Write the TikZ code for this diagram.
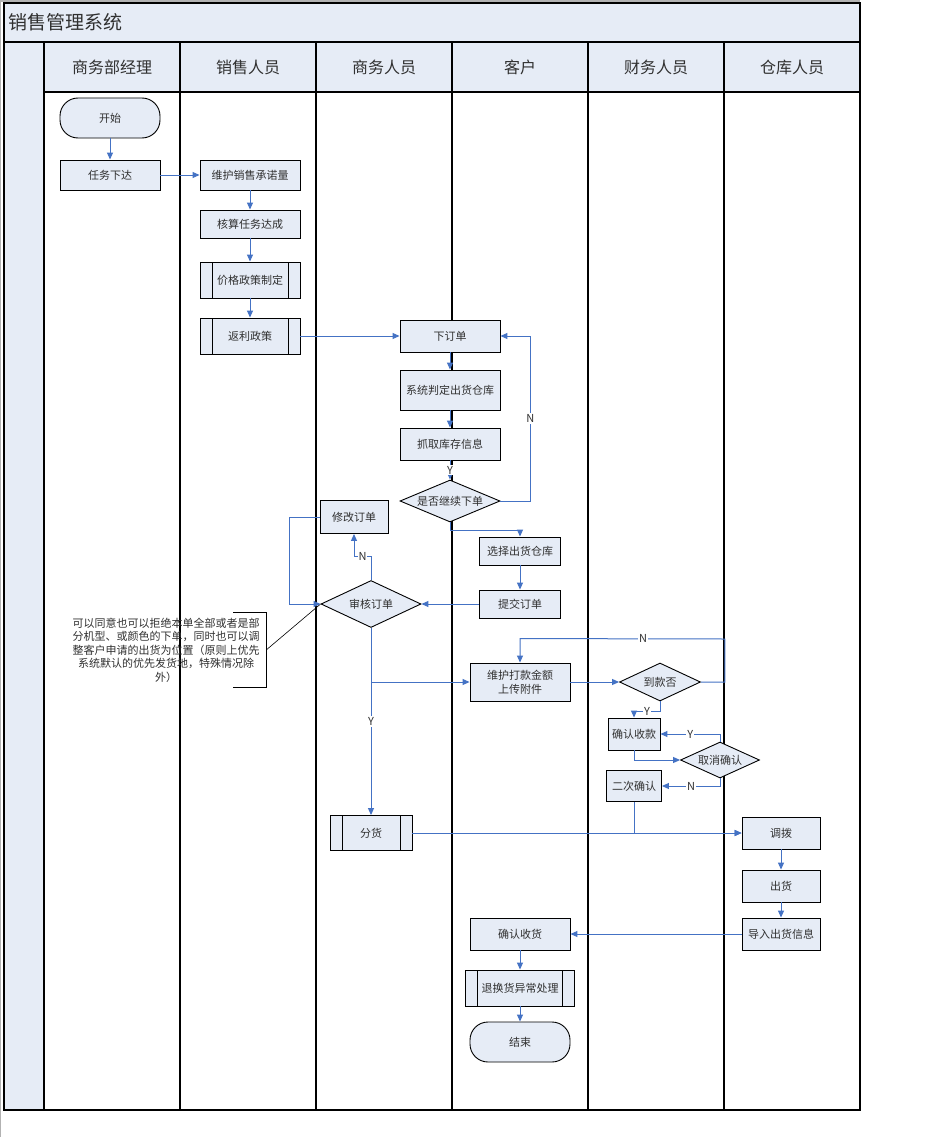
\documentclass[tikz,border=0pt]{standalone}
\usepackage{fontspec}
\setmainfont{Noto Sans CJK SC}
\usetikzlibrary{arrows.meta,shapes.geometric,calc}
\definecolor{lanefill}{HTML}{E6ECF6}
\definecolor{flowblue}{HTML}{4472C4}
\definecolor{txtgray}{HTML}{303030}
\begin{document}
\begin{tikzpicture}[x=1pt,y=-1pt,
  procbox/.style={draw=black, fill=lanefill, line width=0.9pt, inner sep=1pt, align=center,
    text=txtgray, font=\fontsize{11}{14}\selectfont},
  termbox/.style={procbox, rounded corners=18pt, minimum width=100pt, minimum height=40pt},
  subproc/.style={procbox, path picture={
      \draw[line width=0.9pt] ([xshift=12pt]path picture bounding box.north west) -- ([xshift=12pt]path picture bounding box.south west)
        ([xshift=-12pt]path picture bounding box.north east) -- ([xshift=-12pt]path picture bounding box.south east);}},
  decision/.style={procbox, diamond, inner sep=0pt, font=\fontsize{11}{11}\selectfont},
  flow/.style={draw=flowblue, line width=1pt, -{Triangle[width=6pt,length=7pt]}},
  lbl/.style={fill=white, inner sep=1pt, text=txtgray, font=\fontsize{11}{12}\selectfont},
  lanehead/.style={text=txtgray, font=\fontsize{16}{18}\selectfont},
  frameline/.style={draw=black, line width=1.1pt}
]
\useasboundingbox (0,0) rectangle (926,1137);
\fill[white] (0,0) rectangle (926,1137);
% gray screen edges
\draw[gray!60, line width=2pt] (0,1) -- (860,1);
\draw[gray!60, line width=1.5pt] (0.5,0) -- (0.5,1137);
% pool
\fill[lanefill] (4,3) rectangle (860,42);
\fill[lanefill] (4,42) rectangle (44,1110);
\fill[lanefill] (44,42) rectangle (860,92);
\draw[frameline] (4,3) rectangle (860,1110);
\draw[frameline] (4,42) -- (860,42);
\draw[frameline] (44,92) -- (860,92);
\foreach \xx in {44,180,316,452,588,724} {\draw[frameline] (\xx,42) -- (\xx,1110);}
\node[anchor=west, text=txtgray, font=\fontsize{19}{22}\selectfont] (title) at (5,22) {销售管理系统};
\node[lanehead] (h1) at (112,67) {商务部经理};
\node[lanehead] (h2) at (248,67) {销售人员};
\node[lanehead] (h3) at (384,67) {商务人员};
\node[lanehead] (h4) at (520,67) {客户};
\node[lanehead] (h5) at (656,67) {财务人员};
\node[lanehead] (h6) at (792,67) {仓库人员};

% nodes
\node[termbox] (start) at (110,118) {开始};
\node[procbox, minimum width=100pt, minimum height=30pt] (task) at (110,175) {任务下达};
\node[procbox, minimum width=100pt, minimum height=30pt] (whcn) at (250,175) {维护销售承诺量};
\node[procbox, minimum width=100pt, minimum height=28pt] (hs) at (250,224) {核算任务达成};
\node[subproc, minimum width=100pt, minimum height=36pt] (jg) at (250,280) {价格政策制定};
\node[subproc, minimum width=100pt, minimum height=36pt] (fl) at (250,336) {返利政策};
\node[procbox, minimum width=100pt, minimum height=32pt] (xdd) at (450,336) {下订单};
\node[procbox, minimum width=100pt, minimum height=40pt] (xt) at (450,390) {系统判定出货仓库};
\node[procbox, minimum width=100pt, minimum height=32pt] (zq) at (450,444) {抓取库存信息};
\node[decision, shape aspect=2.5, minimum width=100pt, minimum height=42pt] (sf) at (450,501) {是否继续下单};
\node[procbox, minimum width=68pt, minimum height=33pt] (xg) at (354,517) {修改订单};
\node[procbox, minimum width=81pt, minimum height=28pt] (xz) at (520,551) {选择出货仓库};
\node[procbox, minimum width=81pt, minimum height=28pt] (tj) at (520,604) {提交订单};
\node[decision, shape aspect=2.13, minimum width=100pt, minimum height=47pt] (sh) at (371,604) {审核订单};
\node[text=txtgray, font=\fontsize{11}{13.5}\selectfont, align=center, text width=200pt, minimum height=74pt, inner sep=0pt] (note) at (166,650)
  {可以同意也可以拒绝本单全部或者是部\\分机型、或颜色的下单，同时也可以调\\整客户申请的出货为位置（原则上优先\\系统默认的优先发货地，特殊情况除\\外）};
\node[procbox, minimum width=100pt, minimum height=38pt] (whdk) at (520,682) {维护打款金额\\上传附件};
\node[decision, shape aspect=2.13, minimum width=81pt, minimum height=38pt] (dk) at (660,682) {到款否};
\node[procbox, minimum width=52pt, minimum height=32pt, inner sep=0pt] (qr) at (634,734) {确认收款};
\node[decision, shape aspect=2.2, minimum width=79pt, minimum height=36pt] (qx) at (720,760) {取消确认};
\node[procbox, minimum width=55pt, minimum height=31pt, inner sep=0pt] (ec) at (634,786) {二次确认};
\node[subproc, minimum width=82pt, minimum height=35pt] (fh) at (371,833) {分货};
\node[procbox, minimum width=78pt, minimum height=32pt] (db) at (781,833) {调拨};
\node[procbox, minimum width=78pt, minimum height=32pt] (ch) at (781,886) {出货};
\node[procbox, minimum width=78pt, minimum height=32pt, inner sep=0pt] (dr) at (781,934) {导入出货信息};
\node[procbox, minimum width=100pt, minimum height=32pt] (qs) at (520,934) {确认收货};
\node[subproc, minimum width=109pt, minimum height=36pt] (th) at (520,988) {退换货异常处理};
\node[termbox] (end) at (520,1042) {结束};

% annotation bracket
\draw[black, line width=0.8pt] ([xshift=-33pt]note.north east) -- (note.north east) -- (note.south east) -- ([xshift=-33pt]note.south east);
\draw[black, line width=0.6pt] (note.east) -- (sh.west);

% connectors
\draw[flow] (start) -- (task);
\draw[flow] (task) -- (whcn);
\draw[flow] (whcn) -- (hs);
\draw[flow] (hs) -- (jg);
\draw[flow] (jg) -- (fl);
\draw[flow] (fl) -- (xdd);
\draw[flow] (xdd) -- (xt);
\draw[flow] (xt) -- (zq);
\draw[flow] (zq) -- node[lbl]{Y} (sf);
\draw[flow] (sf.east) -- ++(30,0) |- node[lbl, pos=0.25]{N} (xdd.east);
\draw[flow] (sf.south) -- ++(0,8) -| (xz.north);
\draw[flow] (xz) -- (tj);
\draw[flow] (tj) -- (sh);
\draw[flow] (sh.north) -- ++(0,-24) -- node[lbl]{N} ++(-17,0) -- (xg.south);
\draw[flow] (xg.west) -- ++(-30,0) |- (sh.west);
\draw[flow] (sh.south) -- node[lbl]{Y} (fh.north);
\draw[flow] (sh.south) |- (whdk.west);
\draw[flow] (whdk) -- (dk);
\draw[flow] (dk.east) -- ++(24,0) -- ++(0,-43) -- node[lbl, pos=0.4]{N} ($(whdk.north)+(0,-24)$) -- (whdk.north);
\draw[flow] (dk.south) -- ++(0,10) -- node[lbl]{Y} ++(-26,0) -- (qr.north);
\draw[flow] (qr.south) |- (qx.west);
\draw[flow] (qx.north) |- node[lbl, pos=0.75]{Y} (qr.east);
\draw[flow] (qx.south) |- node[lbl, pos=0.75]{N} (ec.east);
\draw[flow] (ec.south) |- (db.west);
\draw[flow] (fh) -- (db);
\draw[flow] (db) -- (ch);
\draw[flow] (ch) -- (dr);
\draw[flow] (dr) -- (qs);
\draw[flow] (qs) -- (th);
\draw[flow] (th) -- (end);
\end{tikzpicture}
\end{document}
